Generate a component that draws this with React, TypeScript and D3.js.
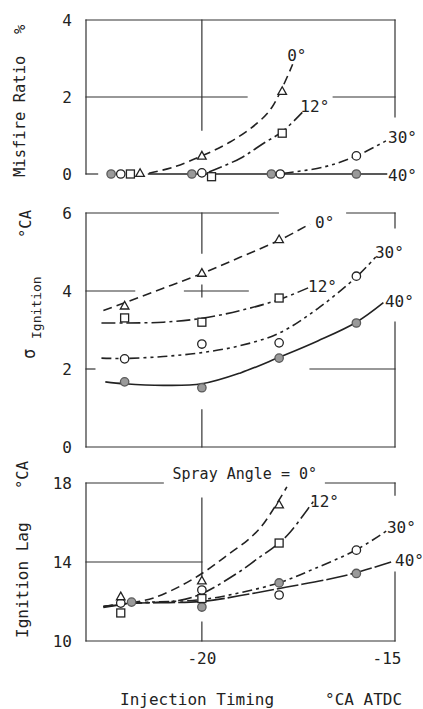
import React, { useEffect, useRef } from 'react';
import * as d3 from 'd3';

type Pt = [number, number];

// x axis: injection timing, °CA ATDC
const timingDomain: Pt = [-23, -15];
const timingTicks = [-20, -15];

// Panel 1: misfire ratio %  (markers spread sideways where they pile up at 0)
const misfireTicks = [0, 2, 4];
const misfire0: Pt[] = [[-21.6, 0.02], [-20.0, 0.47], [-17.92, 2.15]];
const misfire12: Pt[] = [[-21.85, 0], [-19.75, -0.07], [-17.92, 1.06]];
const misfire30: Pt[] = [[-22.1, 0], [-20.0, 0.03], [-17.97, 0], [-16.0, 0.47]];
const misfire40: Pt[] = [[-22.35, 0], [-20.26, 0], [-18.2, 0], [-16.0, 0]];
const misfireFit0: Pt[] = [[-21.37, 0.02], [-20.73, 0.18], [-20.0, 0.47], [-19.27, 0.83], [-18.57, 1.32], [-18.18, 1.74], [-17.65, 2.85]];
const misfireFit12: Pt[] = [[-19.82, 0.05], [-19.0, 0.41], [-18.4, 0.8], [-17.92, 1.1], [-17.4, 1.6]];
const misfireFit30: Pt[] = [[-17.88, 0.02], [-16.85, 0.18], [-16.0, 0.47], [-15.2, 0.88]];
const misfireFit40: Pt[] = [[-21.4, 0], [-15.2, 0]];

// Panel 2: standard deviation of ignition, °CA
const sigmaTicks = [0, 2, 4, 6];
const sigma0: Pt[] = [[-22, 3.62], [-20, 4.46], [-18, 5.32]];
const sigma12: Pt[] = [[-22, 3.31], [-20, 3.2], [-18, 3.82]];
const sigma30: Pt[] = [[-22, 2.26], [-20, 2.64], [-18, 2.67], [-16, 4.38]];
const sigma40: Pt[] = [[-22, 1.67], [-20, 1.52], [-18, 2.28], [-16, 3.18]];
const sigmaFit0: Pt[] = [[-22.55, 3.5], [-22, 3.7], [-21, 4.07], [-20, 4.45], [-19, 4.87], [-18, 5.3], [-17.2, 5.72]];
const sigmaFit12: Pt[] = [[-22.6, 3.18], [-22, 3.18], [-21, 3.2], [-20, 3.3], [-19, 3.5], [-18, 3.78], [-17.25, 4.08]];
const sigmaFit30: Pt[] = [[-22.6, 2.28], [-22, 2.27], [-21, 2.32], [-20, 2.42], [-19, 2.6], [-18, 2.92], [-17, 3.55], [-16, 4.36], [-15.5, 4.87]];
const sigmaFit40: Pt[] = [[-22.5, 1.67], [-22, 1.62], [-21, 1.58], [-20, 1.62], [-19, 1.9], [-18, 2.3], [-17, 2.72], [-16, 3.2], [-15.3, 3.7]];

// Panel 3: ignition lag, °CA
const lagTicks = [10, 14, 18];
const lag0: Pt[] = [[-22.1, 12.25], [-20, 13.05], [-18, 16.9]];
const lag12: Pt[] = [[-22.1, 11.42], [-20, 12.15], [-18, 14.96]];
const lag30: Pt[] = [[-22.1, 11.92], [-20, 12.58], [-18, 12.33], [-16, 14.6]];
const lag40: Pt[] = [[-21.82, 11.97], [-20, 11.72], [-18, 12.94], [-16, 13.42]];
const lagFit0: Pt[] = [[-22.55, 11.75], [-21.8, 11.95], [-21.25, 12.18], [-20.5, 12.84], [-19.86, 13.6], [-19.34, 14.35], [-18.82, 15.1], [-18.43, 15.87], [-17.8, 17.8]];
const lagFit12: Pt[] = [[-22.55, 11.75], [-21.8, 11.9], [-20.6, 12.05], [-20, 12.4], [-19.08, 13.44], [-18.57, 14.15], [-18, 14.96], [-17.71, 15.52], [-17.37, 16.38], [-17.1, 17.1]];
const lagFit30: Pt[] = [[-22.55, 11.75], [-21.8, 11.92], [-20, 12.1], [-19, 12.45], [-18, 12.95], [-17.1, 13.65], [-16, 14.62], [-15.2, 15.6]];
const lagFit40: Pt[] = [[-22.55, 11.7], [-21.8, 11.9], [-20, 12.0], [-19, 12.3], [-17.8, 12.73], [-16.34, 13.29], [-15.1, 14.0]];

const W = 423;
const H = 709;
const FONT = '"DejaVu Sans Mono", monospace';
const INK = '#222';

const dashes: Record<string, string | null> = {
    d0: '9,5',
    d12: '14,4,3,4',
    d30: '10,4,3,4,3,4',
    solid: null,
    long: '22,3',
};

type Series = { pts: Pt[]; fit: Pt[]; marker: string; dash: string | null };
type Label = { text: string; x: number; y: number; size?: number };
type Panel = {
    domain: Pt;
    top: number;
    bottom: number;
    ticks: number[];
    series: Series[];
    labels: Label[];
    grid: [Pt, Pt][];
};

const panels: Panel[] = [
    {
        domain: [0, 4], top: 20, bottom: 174, ticks: misfireTicks,
        series: [
            { pts: misfire40, fit: misfireFit40, marker: 'gray', dash: dashes.solid },
            { pts: misfire30, fit: misfireFit30, marker: 'circle', dash: dashes.d30 },
            { pts: misfire12, fit: misfireFit12, marker: 'square', dash: dashes.d12 },
            { pts: misfire0, fit: misfireFit0, marker: 'triangle', dash: dashes.d0 },
        ],
        labels: [
            { text: '0°', x: -17.79, y: 2.94 },
            { text: '12°', x: -17.45, y: 1.61 },
            { text: '30°', x: -15.18, y: 0.8 },
            { text: '40°', x: -15.18, y: -0.18 },
        ],
        grid: [
            [[-23, 4], [-15, 4]],
            [[-23, 0], [-23, 4]],
            [[-23, 0], [-22.7, 0]],
            [[-15, 4], [-15, 1.48]],
            [[-20, 4], [-20, 1.14]],
            [[-23, 2], [-18.83, 2]],
            [[-16.6, 2], [-15, 2]],
        ],
    },
    {
        domain: [0, 6], top: 213, bottom: 447, ticks: sigmaTicks,
        series: [
            { pts: sigma40, fit: sigmaFit40, marker: 'gray', dash: dashes.solid },
            { pts: sigma30, fit: sigmaFit30, marker: 'circle', dash: dashes.d30 },
            { pts: sigma12, fit: sigmaFit12, marker: 'square', dash: dashes.d12 },
            { pts: sigma0, fit: sigmaFit0, marker: 'triangle', dash: dashes.d0 },
        ],
        labels: [
            { text: '0°', x: -17.07, y: 5.62 },
            { text: '12°', x: -17.25, y: 3.97 },
            { text: '30°', x: -15.52, y: 4.85 },
            { text: '40°', x: -15.26, y: 3.59 },
        ],
        grid: [
            [[-23, 6], [-18.02, 6]],
            [[-16.25, 6], [-15, 6]],
            [[-23, 0], [-23, 6]],
            [[-23, 0], [-15, 0]],
            [[-15, 6], [-15, 5.62]],
            [[-15, 3.2], [-15, 0]],
            [[-20, 6], [-20, 4.97]],
            [[-20, 4.15], [-20, 3.85]],
            [[-20, 0.95], [-20, 0]],
            [[-23, 4], [-21.74, 4]],
            [[-20.45, 4], [-18.8, 4]],
            [[-17.2, 2], [-15, 2]],
            [[-23, 2], [-22.77, 2]],
        ],
    },
    {
        domain: [10, 18], top: 483, bottom: 641, ticks: lagTicks,
        series: [
            { pts: lag40, fit: lagFit40, marker: 'gray', dash: dashes.long },
            { pts: lag30, fit: lagFit30, marker: 'circle', dash: dashes.d30 },
            { pts: lag12, fit: lagFit12, marker: 'square', dash: dashes.d12 },
            { pts: lag0, fit: lagFit0, marker: 'triangle', dash: dashes.d0 },
        ],
        labels: [
            { text: 'Spray Angle = 0°', x: -20.76, y: 18.2, size: 15 },
            { text: '12°', x: -17.2, y: 16.78 },
            { text: '30°', x: -15.21, y: 15.47 },
            { text: '40°', x: -15.0, y: 13.8 },
        ],
        grid: [
            [[-23, 18], [-21.0, 18]],
            [[-16.8, 18], [-15, 18]],
            [[-23, 10], [-23, 18]],
            [[-23, 10], [-15, 10]],
            [[-15, 18], [-15, 17.39]],
            [[-15, 13.49], [-15, 10]],
            [[-20, 17.24], [-20, 13.3]],
            [[-20, 10.96], [-20, 10]],
            [[-23, 14], [-20, 14]],
        ],
    },
];

const App = () => {
    const svgRef = useRef<SVGSVGElement>(null);

    useEffect(() => {
        const svg = d3.select(svgRef.current);
        svg.selectAll('*').remove();

        const x = d3.scaleLinear().domain(timingDomain).range([86, 395]);

        panels.forEach((p) => {
            const y = d3.scaleLinear().domain(p.domain).range([p.bottom, p.top]);
            const g = svg.append('g');

            // frame + broken grid lines
            g.selectAll('.grid')
                .data(p.grid)
                .enter()
                .append('line')
                .attr('x1', (d) => x(d[0][0]))
                .attr('y1', (d) => y(d[0][1]))
                .attr('x2', (d) => x(d[1][0]))
                .attr('y2', (d) => y(d[1][1]))
                .attr('stroke', '#333')
                .attr('stroke-width', 1.2)
                .attr('stroke-linecap', 'square');

            // y tick labels
            g.selectAll('.ytick')
                .data(p.ticks)
                .enter()
                .append('text')
                .attr('x', 72)
                .attr('y', (d) => y(d))
                .attr('dy', '0.36em')
                .attr('text-anchor', 'end')
                .style('font-family', FONT)
                .style('font-size', '16px')
                .attr('fill', INK)
                .text((d) => d);

            const line = d3.line<Pt>()
                .x((d) => x(d[0]))
                .y((d) => y(d[1]))
                .curve(d3.curveCatmullRom.alpha(0.5));

            p.series.forEach((s) => {
                g.append('path')
                    .datum(s.fit)
                    .attr('fill', 'none')
                    .attr('stroke', INK)
                    .attr('stroke-width', 1.6)
                    .attr('stroke-dasharray', s.dash)
                    .attr('d', line);
            });

            p.series.forEach((s) => {
                const m = g.selectAll('.m').data(s.pts).enter();
                if (s.marker === 'gray' || s.marker === 'circle') {
                    m.append('circle')
                        .attr('cx', (d) => x(d[0]))
                        .attr('cy', (d) => y(d[1]))
                        .attr('r', 4.2)
                        .attr('fill', s.marker === 'gray' ? '#9a9a9a' : '#fff')
                        .attr('stroke', s.marker === 'gray' ? '#5a5a5a' : INK)
                        .attr('stroke-width', 1.3);
                } else if (s.marker === 'square') {
                    m.append('rect')
                        .attr('x', (d) => x(d[0]) - 4)
                        .attr('y', (d) => y(d[1]) - 4)
                        .attr('width', 8)
                        .attr('height', 8)
                        .attr('fill', '#fff')
                        .attr('stroke', INK)
                        .attr('stroke-width', 1.3);
                } else {
                    m.append('path')
                        .attr('transform', (d) => `translate(${x(d[0])},${y(d[1])})`)
                        .attr('d', 'M0,-4.5L4.3,3.2L-4.3,3.2Z')
                        .attr('fill', '#fff')
                        .attr('stroke', INK)
                        .attr('stroke-width', 1.3);
                }
            });

            g.selectAll('.lab')
                .data(p.labels)
                .enter()
                .append('text')
                .attr('x', (d) => x(d.x))
                .attr('y', (d) => y(d.y))
                .style('font-family', FONT)
                .style('font-size', (d) => `${d.size || 16}px`)
                .attr('fill', INK)
                .text((d) => d.text);
        });

        // x tick labels (bottom panel only)
        svg.selectAll('.xtick')
            .data(timingTicks)
            .enter()
            .append('text')
            .attr('x', (d) => x(d) - (d === -15 ? 8 : 0))
            .attr('y', 664)
            .attr('text-anchor', 'middle')
            .style('font-family', FONT)
            .style('font-size', '16px')
            .attr('fill', INK)
            .text((d) => d);

        const txt = (tx: number, ty: number, s: string, size = 16, rot = false) =>
            svg.append('text')
                .attr('transform', `translate(${tx},${ty})${rot ? ' rotate(-90)' : ''}`)
                .style('font-family', FONT)
                .style('font-size', `${size}px`)
                .attr('fill', INK)
                .text(s);

        // axis titles
        txt(120, 705, 'Injection Timing');
        txt(325, 705, '°CA ATDC');
        txt(25, 177, 'Misfire Ratio', 15.5, true);
        txt(25, 34, '%', 15.5, true);
        txt(35, 359, 'σ', 17, true);
        txt(41, 339, 'Ignition', 13, true);
        txt(31, 238, '°CA', 15.5, true);
        txt(28, 638, 'Ignition Lag', 16, true);
        txt(28, 489, '°CA', 15.5, true);
    }, []);

    return (
        <svg
            ref={svgRef}
            width={W}
            height={H}
            style={{ position: 'absolute', left: 0, top: 0, background: '#fff' }}
        />
    );
};

export default App;
